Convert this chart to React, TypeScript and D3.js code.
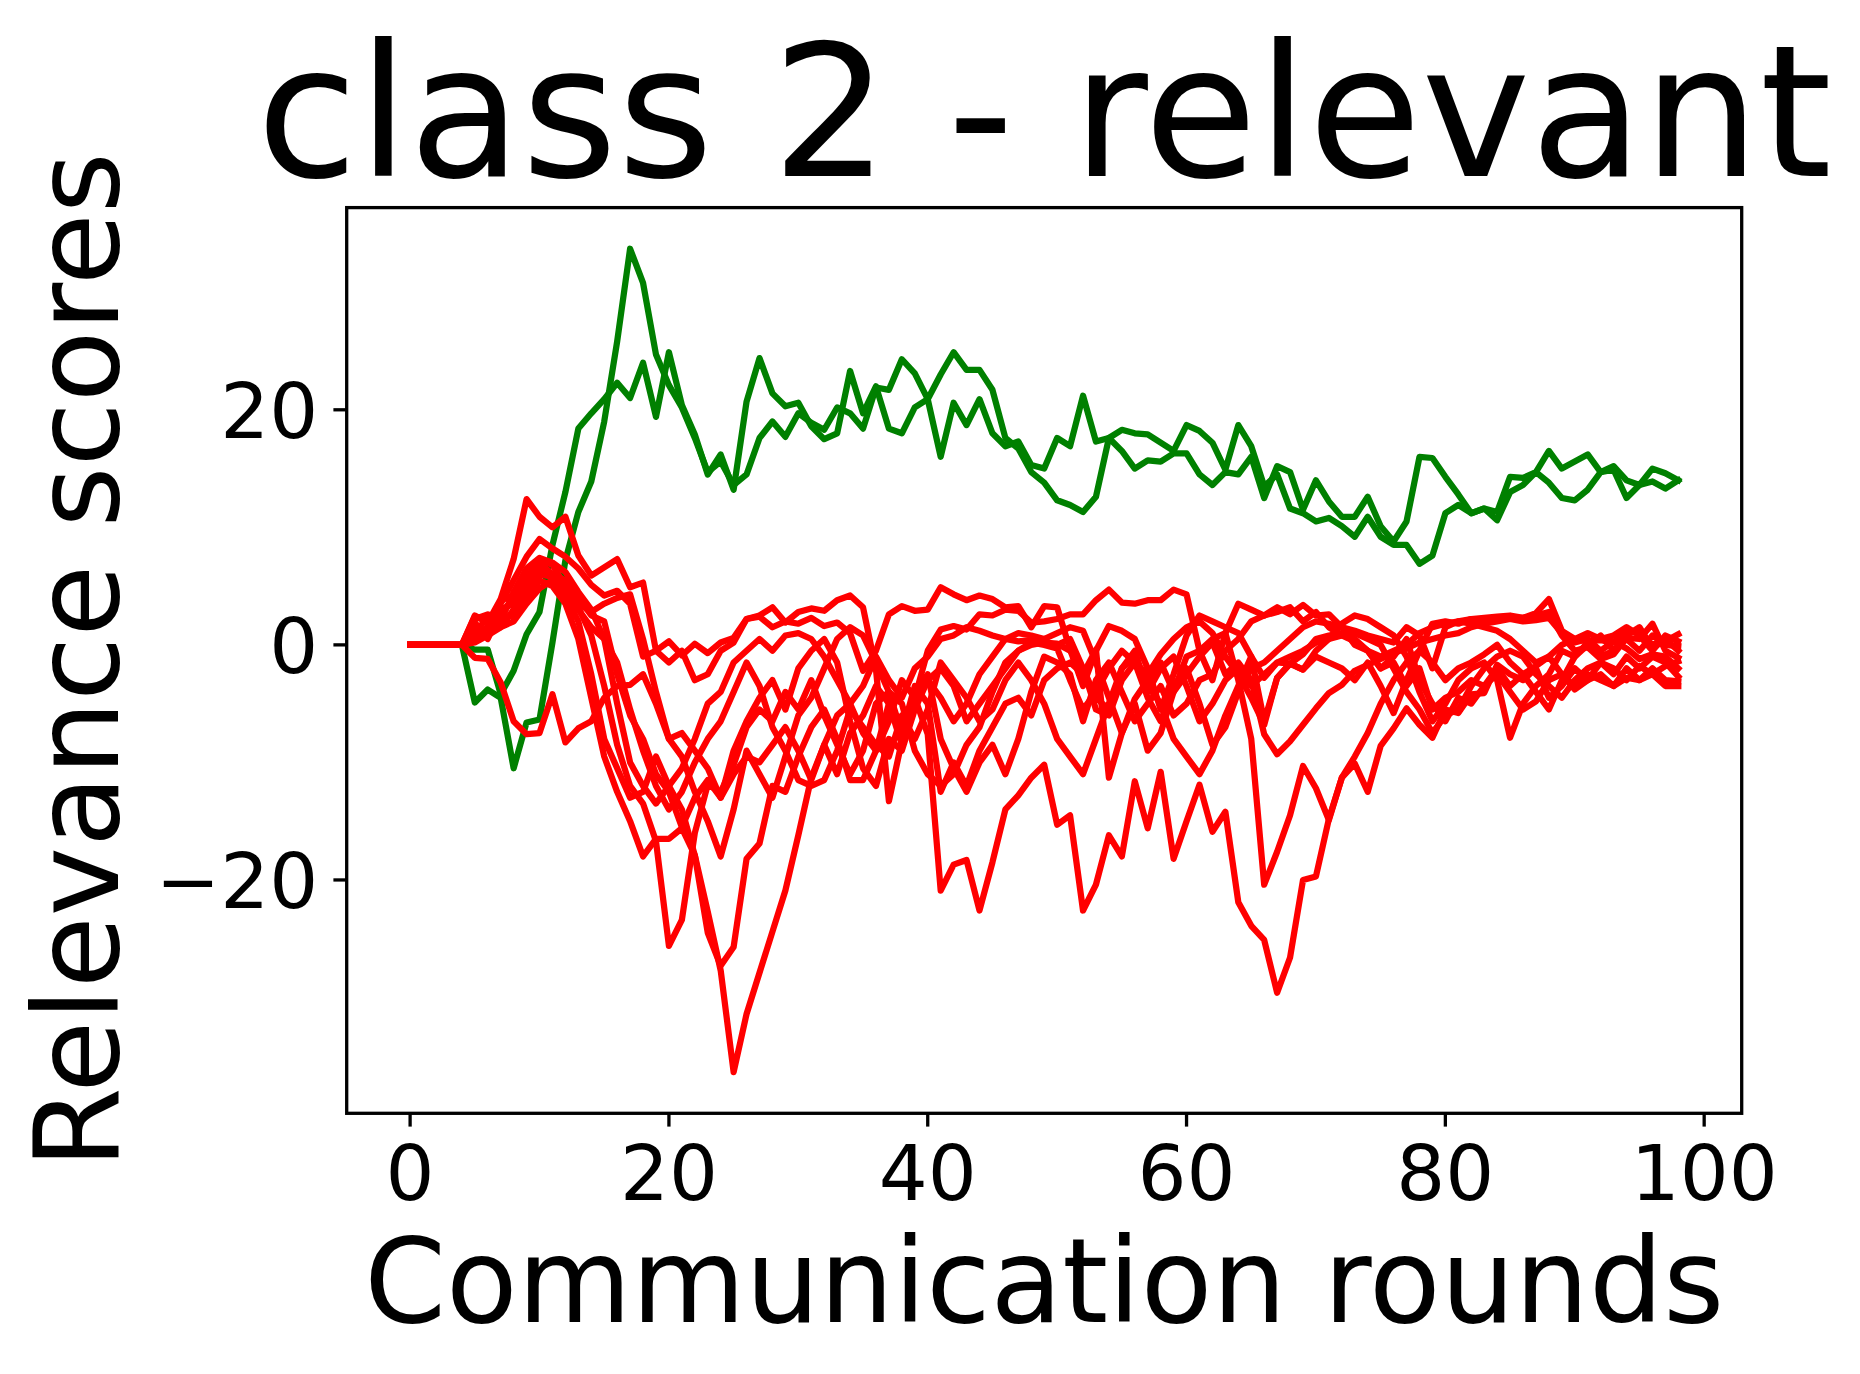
import React from "react";
import * as d3 from "d3";

const rounds: number[] = Array.from({ length: 99 }, (_, i) => i);

const greenSeries: number[][] = [
  [0,0,0,0,0,
   -4.9,-3.8,-4.5,-10.5,-6.6,-6.35,0.2,7.2,11.3,
   13.9,19.0,25.8,33.7,30.8,24.7,22.1,20.2,17.6,
   14.7,15.6,13.6,14.5,17.6,19.0,17.7,19.7,18.9,
   18.3,20.2,19.7,18.4,21.9,21.7,24.3,23.1,20.9,
   23.0,24.9,23.4,23.4,21.7,17.6,16.7,14.7,13.8,12.3,
   11.9,11.3,12.6,17.6,18.3,18.0,17.9,17.2,16.5,18.7,
   18.2,17.2,14.9,18.7,16.9,13.5,14.5,11.6,11.2,10.5,
   10.8,10.1,9.2,10.9,9.2,8.5,8.5,6.9,7.6,11.2,
   11.9,11.2,11.6,10.6,13.0,13.6,14.7,13.8,12.5,12.3,
   13.2,14.7,14.9,12.5,13.6,13.9,13.3,14.0],
  [0,0,0,0,0,
   -0.4,-0.4,-4.2,-2.2,0.9,2.8,8.5,13.0,18.4,
   19.7,20.9,22.3,21.0,24.0,19.4,24.9,20.4,17.9,
   14.5,16.2,13.2,20.7,24.4,21.4,20.3,20.6,18.6,
   17.5,18.0,23.3,19.7,22.0,18.4,18.0,20.2,20.9,
   16.0,20.6,18.7,20.9,18.0,16.9,17.3,15.3,15.0,17.6,
   16.9,21.2,17.3,17.6,16.5,15.0,15.7,15.6,16.3,16.3,
   14.5,13.6,14.7,14.5,16.0,12.5,15.2,14.7,11.5,14.0,
   12.2,10.9,10.9,12.6,10.1,8.8,10.5,16.0,15.9,14.3,
   12.8,11.2,11.6,11.3,14.3,14.2,14.7,16.5,15.0,15.6,
   16.2,14.7,15.2,14.0,13.6,15.0,14.6,14.0],
];

const redSeries: number[][] = [
  [0,0,0,0,0,
   2.5,1.9,3.9,7.3,12.4,10.9,10.0,10.9,7.6,
   5.9,6.6,7.3,4.9,5.3,-0.5,-1.5,-0.5,-3.0,
   -2.5,-0.5,0.2,2.2,2.5,3.2,1.9,2.8,3.1,
   2.9,3.8,4.2,3.2,-2.1,-13.3,-8.2,-4.5,-0.5,
   1.3,1.6,1.3,2.6,2.5,3.0,2.9,1.9,2.0,2.2,
   2.6,2.6,3.8,4.7,3.6,3.5,3.8,3.8,4.7,4.3,
   -0.5,-3.0,1.0,3.5,3.0,2.5,3.2,2.6,3.4,2.5,
   2.6,1.5,1.2,0.8,0.5,0.2,1.5,0.8,-2.0,1.5,
   2.0,2.2,2.0,2.1,2.3,2.3,2.7,3.9,1.2,0.5,
   0.3,0.4,0.2,1.3,1.0,0.0,0.3,0.9],
  [0,0,0,0,0,
   1.5,1.2,3.5,5.5,7.5,9.0,8.2,7.5,6.5,
   5.1,4.2,4.6,3.5,-1.0,-0.5,0.3,-0.9,0.1,
   -0.7,0.2,0.6,2.2,2.4,1.5,2.0,1.8,2.3,
   1.6,1.9,1.0,-2.2,-0.5,2.6,3.3,2.9,3.0,
   4.9,4.3,3.8,4.2,3.9,3.2,3.3,1.5,3.3,3.2,
   -0.4,-3.5,-0.5,1.6,1.2,0.5,-2.0,-5.5,-2.5,0.8,
   2.5,2.0,1.5,1.0,-1.0,-6.5,-2.8,-1.6,-2.1,-1.0,
   -1.5,-2.0,-3.0,-1.5,-3.5,-5.8,-3.0,-0.5,1.8,2.0,
   1.8,2.2,2.3,2.4,2.5,2.3,2.5,2.8,0.8,-0.5,
   -0.2,-1.2,-0.8,0.6,0.5,1.8,-0.5,-1.1],
  [0,0,0,0,0,
   2.4,2.0,1.5,3.0,5.2,7.3,6.8,5.0,3.2,
   0.8,-3.5,-8.5,-12.0,-13.5,-16.7,-25.6,-23.4,-16.0,
   -11.9,-12.5,-10.2,-7.0,-5.5,-6.5,-4.0,-5.5,-3.0,
   -6.0,-8.5,-11.0,-9.0,-5.0,-4.0,-7.5,-3.5,-5.0,
   -12.5,-10.0,-12.0,-9.0,-7.0,-5.0,-4.5,-6.0,-3.0,-2.0,
   -1.5,-2.5,-0.4,-11.3,-7.5,-4.6,-3.0,-1.5,-4.0,-2.5,
   -1.0,0.2,-2.5,-1.5,-3.0,-7.6,-9.3,-8.2,-6.8,-5.4,
   -4.1,-3.4,-2.2,-1.7,-1.2,-0.7,-0.3,0.2,0.5,0.8,
   1.0,1.5,1.8,2.0,2.2,2.0,2.1,2.3,1.0,0.2,
   0.5,-0.5,0.3,-0.3,-1.2,-0.8,-1.0,-2.0],
  [0,0,0,0,0,
   1.9,0.5,2.8,3.8,4.8,6.5,5.8,4.2,2.0,
   -2.5,-8.0,-10.5,-13.0,-12.5,-9.5,-12.0,-14.0,-17.9,
   -22.7,-27.7,-36.35,-31.4,-27.9,-24.4,-20.9,-16.2,-11.3,
   -8.5,-6.0,-5.0,-7.5,-9.0,-6.5,-3.0,-4.5,-3.0,
   -2.0,-3.5,-6.5,-5.0,-3.5,-2.0,-0.5,0.0,0.2,0.0,
   0.5,-2.0,-5.5,-6.0,-3.0,-1.5,-4.5,-6.5,-3.5,-2.0,
   -5.0,-8.5,-7.0,-4.0,-2.0,-1.5,-0.5,0.5,1.5,2.0,
   1.8,1.5,0.0,-0.5,-2.0,-1.5,-3.5,-2.0,-5.5,-4.5,
   -4.0,-3.0,-3.5,-2.5,-4.0,-5.5,-4.8,-3.0,-2.5,-3.5,
   -2.5,-3.0,-3.5,-2.8,-3.0,-2.0,-3.0,-3.1],
  [0,0,0,0,0,
   0.8,1.5,2.2,2.5,4.0,5.5,5.0,3.5,0.5,
   -4.5,-9.5,-12.5,-15.0,-18.0,-16.5,-16.5,-15.6,-17.9,
   -24.5,-27.3,-25.7,-18.2,-16.9,-12.0,-12.5,-9.5,-7.0,
   -5.5,-8.0,-11.5,-11.5,-9.0,-5.0,-8.5,-4.0,-2.5,
   -8.0,-10.5,-12.5,-10.0,-8.5,-11.0,-8.0,-4.0,-1.0,-1.5,
   -2.5,-6.5,-3.0,-1.5,-4.0,-6.5,-5.0,-3.5,-6.0,-5.0,
   -3.0,-2.5,-0.5,0.5,2.0,2.5,2.8,3.2,2.0,2.8,
   1.5,0.8,0.3,-0.5,-2.0,-1.0,0.5,-3.0,-5.0,-6.5,
   -4.5,-5.0,-3.5,-2.0,-3.5,-2.5,-1.8,-1.0,-2.5,-3.8,
   -3.0,-1.5,-2.0,-3.0,-1.8,-2.5,-1.8,-1.4],
  [0,0,0,0,0,
   -1.1,-1.2,-3.2,-6.5,-7.6,-7.5,-4.2,-8.3,-7.1,
   -6.5,-4.5,-3.5,-3.4,-2.5,-5.0,-8.0,-7.5,-9.0,
   -10.5,-13.0,-11.0,-9.5,-10.0,-8.5,-7.0,-9.0,-11.5,
   -8.5,-11.0,-7.5,-6.0,-3.5,-5.0,-7.0,-4.5,-7.6,
   -20.9,-18.7,-18.3,-22.6,-18.5,-14.0,-12.8,-11.3,-10.2,-15.3,
   -14.5,-22.6,-20.4,-16.2,-18.0,-11.6,-15.6,-10.8,-18.2,-15.0,
   -11.9,-15.9,-14.2,-21.9,-23.9,-25.1,-29.6,-26.6,-20.0,-19.7,
   -14.8,-11.3,-10.1,-12.5,-8.6,-7.1,-5.4,-6.8,-7.9,-5.5,
   -5.8,-4.2,-4.1,-1.7,-2.5,-3.0,-2.0,-4.5,-3.5,-2.0,
   -3.0,-2.5,-3.5,-2.0,-3.0,-2.5,-3.5,-3.5],
  [0,0,0,0,0,
   0.5,1.0,3.8,4.2,5.8,7.0,6.0,5.5,4.0,
   2.5,2.0,-2.5,-6.0,-8.0,-11.0,-12.5,-15.5,-13.0,
   -11.5,-13.0,-9.0,-6.5,-4.5,-3.0,-5.5,-2.0,-0.5,
   0.5,-1.5,-6.5,-10.5,-12.0,-8.0,-9.0,-5.5,-3.0,
   -4.5,-6.5,-5.0,-2.5,-1.0,0.5,1.0,0.8,0.5,1.0,
   1.5,1.2,-1.5,-4.5,-7.5,-5.0,-9.0,-7.5,-4.0,-1.0,
   -0.5,0.5,1.0,-3.0,-8.0,-20.4,-17.6,-14.5,-10.3,-12.2,
   -14.9,-11.3,-9.5,-7.5,-5.0,-3.0,-1.5,-0.5,-1.5,-3.0,
   -2.0,-1.5,-0.8,0.0,-1.5,-2.5,-4.0,-5.5,-3.0,-1.0,
   0.2,-1.0,-0.5,0.5,-0.5,0.8,0.0,-0.1],
  [0,0,0,0,0,
   1.2,2.2,3.0,3.5,4.5,6.0,5.8,5.3,3.5,
   2.8,3.5,4.0,4.3,0.5,-4.0,-8.0,-9.5,-12.5,
   -15.0,-18.0,-14.0,-9.0,-11.0,-13.0,-9.5,-6.0,-4.5,
   -2.0,0.5,1.5,0.8,-1.5,-4.0,-5.0,-9.0,-11.0,
   -12.0,-11.0,-8.5,-7.0,-4.0,-1.5,-0.5,0.2,0.0,-0.3,
   -3.0,-5.5,-4.0,-2.0,-0.5,-1.5,-2.5,-0.8,0.5,1.5,
   2.0,1.0,-1.0,-2.5,-4.5,-6.8,-2.8,-1.6,-2.1,-0.5,
   0.5,1.8,2.5,2.2,1.5,0.8,-1.0,-4.0,-6.5,-5.0,
   -3.0,-2.0,-1.5,-3.0,-7.9,-5.0,-3.5,-2.5,-0.5,-1.0,
   0.0,0.8,-0.5,0.8,1.5,-0.3,0.5,-0.5],
  [0,0,0,0,0,
   2.2,2.6,2.0,4.5,6.5,7.4,7.0,6.2,4.5,
   3.0,0.5,-5.0,-10.0,-12.0,-13.5,-12.0,-10.5,-8.0,
   -5.0,-4.0,-1.5,-0.5,0.5,-0.5,0.8,1.0,0.5,
   -1.0,-3.0,-5.0,-3.5,-1.0,-3.0,-4.5,-2.0,-1.0,
   0.5,0.8,1.5,1.2,0.8,0.5,0.3,0.4,0.2,0.1,
   -0.5,-2.0,-4.5,-5.5,-2.0,-1.0,-3.5,-5.0,-8.0,-9.5,
   -11.0,-9.0,-6.0,-3.5,-1.0,-2.8,-1.5,-1.6,-0.8,0.5,
   0.8,1.0,0.5,-0.5,-1.0,-0.5,0.0,1.0,1.5,1.8,
   2.0,1.8,1.5,1.2,0.5,-0.5,-1.5,-1.0,0.0,0.5,
   1.0,0.5,0.8,1.5,0.8,-0.5,0.8,0.3],
  [0,0,0,0,0,
   0.2,0.8,1.5,2.0,3.5,4.8,5.5,4.5,3.0,
   1.5,0.5,-1.5,-5.5,-9.0,-12.0,-14.0,-12.5,-10.0,
   -8.0,-6.5,-4.0,-1.5,-3.5,-7.0,-9.0,-11.5,-12.0,
   -11.5,-9.0,-5.5,-7.0,-8.5,-9.5,-6.0,-8.0,-5.5,
   -1.5,-3.0,-4.5,-6.5,-5.5,-3.0,-1.5,-3.0,-5.0,-8.0,
   -9.5,-11.0,-8.0,-5.0,-2.0,-0.5,-4.0,-2.0,-1.0,-3.5,
   -6.5,-5.0,-3.0,-2.0,-3.5,-2.5,-1.5,-1.0,-0.5,0.2,
   0.5,0.8,1.0,0.5,0.0,-2.0,-4.0,-5.5,-7.5,-6.0,
   -5.5,-3.5,-2.0,-1.0,-0.5,-1.0,-2.5,-3.5,-4.5,-3.0,
   -2.0,-1.5,-2.5,-1.0,-2.0,-1.0,-1.5,-2.7],
];

const xTicks: number[] = [0, 20, 40, 60, 80, 100];
const yTicks: number[] = [-20, 0, 20];
const yTickLabels: string[] = ["\u221220", "0", "20"];

const titleText = "class 2 - relevant";
const xLabelText = "Communication rounds";
const yLabelText = "Relevance scores";

const W = 1860;
const H = 1374;
const plot = { left: 346.7, right: 1741.7, top: 207.6, bottom: 1113.3 };
const FONT = "'DejaVu Sans', Verdana, sans-serif";

export default function App() {
  const xExt = d3.extent(rounds) as [number, number];
  const xPad = (xExt[1] - xExt[0]) * 0.05;
  const allY = [...greenSeries.flat(), ...redSeries.flat()];
  const yExt = d3.extent(allY) as [number, number];
  const yPad = (yExt[1] - yExt[0]) * 0.05;

  const x = d3.scaleLinear().domain([xExt[0] - xPad, xExt[1] + xPad]).range([plot.left, plot.right]);
  const y = d3.scaleLinear().domain([yExt[0] - yPad, yExt[1] + yPad]).range([plot.bottom, plot.top]);

  const line = d3
    .line<number>()
    .x((_, i) => x(rounds[i]))
    .y((d) => y(d));

  const tickLen = 13.3;
  const sw = 3.3;
  const lw = 6.25;
  const tickFont = 77;
  const labelFont = 117;

  return (
    <svg
      width={W}
      height={H}
      viewBox={`0 0 ${W} ${H}`}
      style={{ position: "absolute", left: 0, top: 0, background: "#fff" }}
    >
      <rect x={0} y={0} width={W} height={H} fill="#fff" />
      <defs>
        <clipPath id="plotClip">
          <rect x={plot.left} y={plot.top} width={plot.right - plot.left} height={plot.bottom - plot.top} />
        </clipPath>
      </defs>
      <g clipPath="url(#plotClip)" fill="none" strokeLinejoin="round" strokeLinecap="square">
        {greenSeries.map((s, i) => (
          <path key={"g" + i} d={line(s) || ""} stroke="#008000" strokeWidth={lw} />
        ))}
        {redSeries.map((s, i) => (
          <path key={"r" + i} d={line(s) || ""} stroke="#ff0000" strokeWidth={lw} />
        ))}
      </g>
      <rect
        x={plot.left}
        y={plot.top}
        width={plot.right - plot.left}
        height={plot.bottom - plot.top}
        fill="none"
        stroke="#000"
        strokeWidth={sw}
      />
      {xTicks.map((t) => (
        <g key={"xt" + t}>
          <line x1={x(t)} x2={x(t)} y1={plot.bottom} y2={plot.bottom + tickLen} stroke="#000" strokeWidth={sw} />
          <text x={x(t)} y={plot.bottom + 87} fontSize={tickFont} fontFamily={FONT} textAnchor="middle" fill="#000">
            {String(t)}
          </text>
        </g>
      ))}
      {yTicks.map((t, i) => (
        <g key={"yt" + t}>
          <line x1={plot.left - tickLen} x2={plot.left} y1={y(t)} y2={y(t)} stroke="#000" strokeWidth={sw} />
          <text x={plot.left - 28.5} y={y(t) + 28} fontSize={tickFont} fontFamily={FONT} textAnchor="end" fill="#000">
            {yTickLabels[i]}
          </text>
        </g>
      ))}
      <text
        x={(plot.left + plot.right) / 2}
        y={176}
        fontSize={184}
        fontFamily={FONT}
        textAnchor="middle"
        fill="#000"
      >
        {titleText}
      </text>
      <text
        x={(plot.left + plot.right) / 2}
        y={1322}
        fontSize={labelFont}
        fontFamily={FONT}
        textAnchor="middle"
        fill="#000"
      >
        {xLabelText}
      </text>
      <text
        transform={`translate(118, ${(plot.top + plot.bottom) / 2}) rotate(-90)`}
        fontSize={labelFont}
        fontFamily={FONT}
        textAnchor="middle"
        fill="#000"
      >
        {yLabelText}
      </text>
    </svg>
  );
}
